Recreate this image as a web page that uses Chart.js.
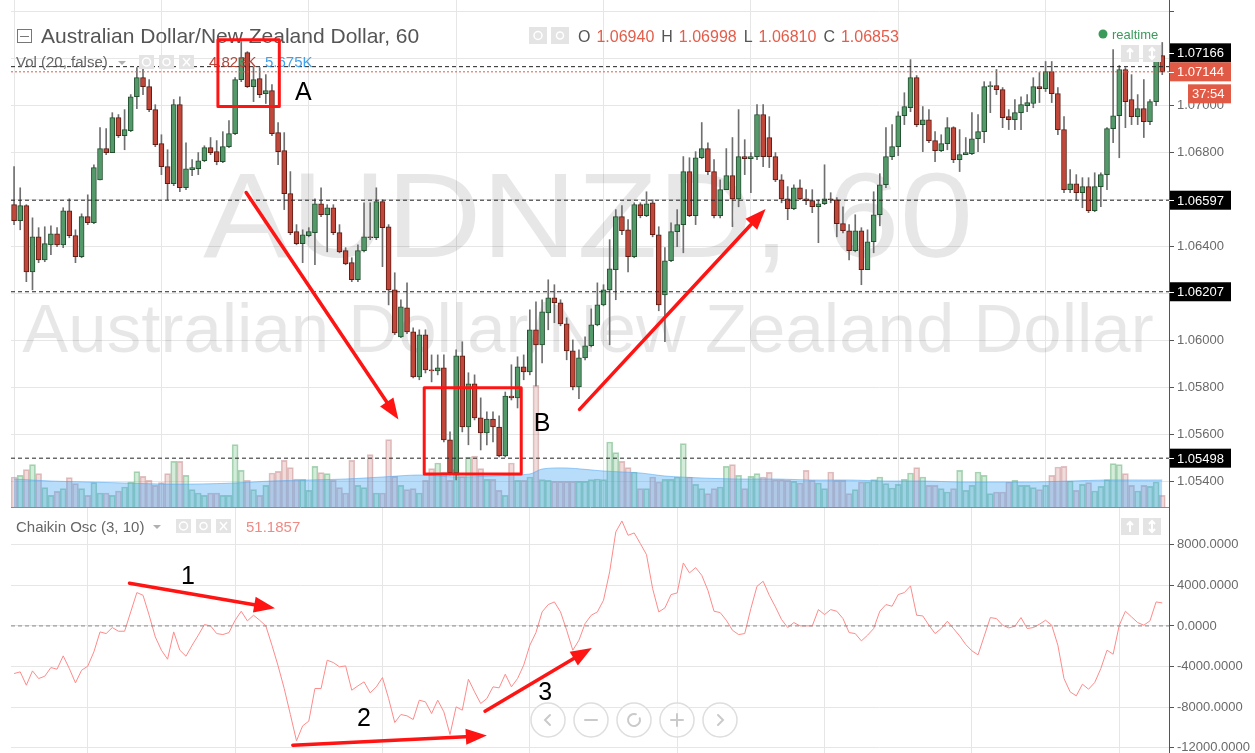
<!DOCTYPE html>
<html>
<head>
<meta charset="utf-8">
<script src="https://cdn.jsdelivr.net/npm/chart.js@4.4.1/dist/chart.umd.min.js"></script>
<style>
  body { margin: 0; background: #fff; width: 1255px; height: 753px; overflow: hidden; position: relative; }
  #priceChart { position: absolute; left: 0; top: 0; }
  #oscChart { position: absolute; left: 0; top: 507px; }
</style>
</head>
<body>
<canvas id="priceChart" width="1255" height="508"></canvas>
<canvas id="oscChart" width="1255" height="246"></canvas>
<script>
var FONT = "'Liberation Sans', Arial, sans-serif";

// AUDNZD 60 min candles (index 0 = first bar on the left)
var openP = [
  1.06578, 1.06510, 1.06574, 1.06292, 1.06441, 1.06343, 1.06407, 1.06454, 1.06407, 1.06552,
  1.06446, 1.06356, 1.06527, 1.06501, 1.06684, 1.06817, 1.06800, 1.06949, 1.06872, 1.06893,
  1.07038, 1.07119, 1.07081, 1.06983, 1.06838, 1.06740, 1.06667, 1.07004, 1.06650, 1.06727,
  1.06731, 1.06765, 1.06821, 1.06804, 1.06761, 1.06825, 1.06881, 1.07111, 1.07226, 1.07081,
  1.07115, 1.07051, 1.07064, 1.06885, 1.06808, 1.06625, 1.06463, 1.06412, 1.06446, 1.06459,
  1.06582, 1.06535, 1.06565, 1.06459, 1.06382, 1.06331, 1.06258, 1.06382, 1.06441, 1.06437,
  1.06591, 1.06484, 1.06215, 1.06015, 1.06139, 1.06036, 1.05844, 1.06024, 1.05874, 1.05870,
  1.05883, 1.05576, 1.05435, 1.05934, 1.05631, 1.05815, 1.05670, 1.05606, 1.05665, 1.05631,
  1.05508, 1.05763, 1.05755, 1.05887, 1.05866, 1.06045, 1.05981, 1.06117, 1.06181, 1.06160,
  1.06070, 1.05955, 1.05802, 1.05925, 1.05977, 1.06066, 1.06151, 1.06215, 1.06301, 1.06527,
  1.06471, 1.06356, 1.06578, 1.06531, 1.06586, 1.06450, 1.06194, 1.06339, 1.06463, 1.06493,
  1.06719, 1.06531, 1.06778, 1.06817, 1.06719, 1.06531, 1.06642, 1.06702, 1.06603, 1.06783,
  1.06774, 1.06783, 1.06962, 1.06864, 1.06783, 1.06684, 1.06603, 1.06561, 1.06650, 1.06603,
  1.06595, 1.06569, 1.06582, 1.06603, 1.06599, 1.06497, 1.06467, 1.06382, 1.06467, 1.06301,
  1.06420, 1.06535, 1.06663, 1.06783, 1.06825, 1.06957, 1.06991, 1.07119, 1.06919, 1.06940,
  1.06851, 1.06808, 1.06838, 1.06906, 1.06770, 1.06791, 1.06795, 1.06859, 1.06889, 1.07081,
  1.07085, 1.07068, 1.06953, 1.06940, 1.06970, 1.07000, 1.07009, 1.07081, 1.07072, 1.07145,
  1.07051, 1.06898, 1.06642, 1.06667, 1.06629, 1.06655, 1.06552, 1.06655, 1.06706, 1.06902,
  1.06957, 1.07154, 1.07026, 1.06953, 1.06987, 1.06932, 1.07017, 1.07213
];
var highP = [
  1.06740, 1.06650, 1.06578, 1.06522, 1.06480, 1.06484, 1.06488, 1.06480, 1.06565, 1.06603,
  1.06471, 1.06539, 1.06620, 1.06748, 1.06906, 1.06902, 1.06970, 1.06962, 1.06983, 1.07047,
  1.07162, 1.07183, 1.07111, 1.07004, 1.06876, 1.06812, 1.07026, 1.07038, 1.06842, 1.06770,
  1.06800, 1.06829, 1.06864, 1.06851, 1.06889, 1.06936, 1.07119, 1.07273, 1.07230, 1.07166,
  1.07162, 1.07132, 1.07090, 1.06928, 1.06885, 1.06719, 1.06493, 1.06471, 1.06480, 1.06603,
  1.06650, 1.06578, 1.06578, 1.06493, 1.06395, 1.06352, 1.06407, 1.06586, 1.06586, 1.06650,
  1.06599, 1.06493, 1.06288, 1.06173, 1.06245, 1.06053, 1.06045, 1.06045, 1.05938, 1.05938,
  1.05938, 1.05610, 1.05960, 1.05994, 1.05862, 1.05853, 1.05755, 1.05695, 1.05695, 1.05678,
  1.05780, 1.05896, 1.05930, 1.05938, 1.06130, 1.06164, 1.06173, 1.06258, 1.06237, 1.06173,
  1.06096, 1.06002, 1.05960, 1.06015, 1.06134, 1.06245, 1.06237, 1.06429, 1.06557, 1.06574,
  1.06514, 1.06586, 1.06586, 1.06633, 1.06599, 1.06484, 1.06395, 1.06501, 1.06557, 1.06783,
  1.06778, 1.06804, 1.06928, 1.06842, 1.06770, 1.06684, 1.06817, 1.06864, 1.06983, 1.06855,
  1.06800, 1.07004, 1.07004, 1.06953, 1.06800, 1.06706, 1.06655, 1.06663, 1.06684, 1.06642,
  1.06642, 1.06599, 1.06748, 1.06629, 1.06608, 1.06569, 1.06493, 1.06535, 1.06480, 1.06471,
  1.06633, 1.06710, 1.06906, 1.06919, 1.06974, 1.07055, 1.07196, 1.07128, 1.06996, 1.06983,
  1.06889, 1.06876, 1.06949, 1.06910, 1.06898, 1.06864, 1.06970, 1.06962, 1.07102, 1.07102,
  1.07154, 1.07077, 1.06983, 1.07026, 1.07038, 1.07047, 1.07119, 1.07141, 1.07188, 1.07188,
  1.07077, 1.06953, 1.06727, 1.06706, 1.06693, 1.06693, 1.06714, 1.06714, 1.06906, 1.07239,
  1.07171, 1.07162, 1.07132, 1.07047, 1.07111, 1.07026, 1.07230, 1.07269
];
var lowP = [
  1.06493, 1.06471, 1.06250, 1.06215, 1.06331, 1.06335, 1.06365, 1.06399, 1.06395, 1.06437,
  1.06331, 1.06352, 1.06493, 1.06497, 1.06684, 1.06791, 1.06800, 1.06864, 1.06812, 1.06889,
  1.06987, 1.07047, 1.06974, 1.06825, 1.06706, 1.06599, 1.06659, 1.06633, 1.06642, 1.06702,
  1.06706, 1.06761, 1.06791, 1.06748, 1.06757, 1.06821, 1.06876, 1.07102, 1.07077, 1.07017,
  1.07034, 1.07009, 1.06872, 1.06748, 1.06557, 1.06450, 1.06407, 1.06331, 1.06441, 1.06322,
  1.06527, 1.06377, 1.06450, 1.06373, 1.06322, 1.06250, 1.06250, 1.06377, 1.06429, 1.06429,
  1.06314, 1.06151, 1.06024, 1.06011, 1.06028, 1.05840, 1.05832, 1.05861, 1.05823, 1.05853,
  1.05567, 1.05427, 1.05405, 1.05610, 1.05555, 1.05661, 1.05533, 1.05555, 1.05567, 1.05503,
  1.05503, 1.05746, 1.05712, 1.05832, 1.05853, 1.05806, 1.05904, 1.06045, 1.06075, 1.06062,
  1.05917, 1.05789, 1.05751, 1.05917, 1.05972, 1.06062, 1.06147, 1.05981, 1.06173, 1.06450,
  1.06292, 1.06352, 1.06522, 1.06527, 1.06441, 1.06126, 1.05994, 1.06335, 1.06399, 1.06373,
  1.06527, 1.06493, 1.06774, 1.06706, 1.06522, 1.06522, 1.06642, 1.06484, 1.06569, 1.06706,
  1.06629, 1.06770, 1.06740, 1.06736, 1.06676, 1.06586, 1.06514, 1.06557, 1.06599, 1.06578,
  1.06544, 1.06416, 1.06578, 1.06586, 1.06441, 1.06458, 1.06343, 1.06377, 1.06237, 1.06301,
  1.06373, 1.06488, 1.06650, 1.06770, 1.06787, 1.06919, 1.06974, 1.06910, 1.06804, 1.06842,
  1.06761, 1.06804, 1.06812, 1.06757, 1.06719, 1.06791, 1.06791, 1.06804, 1.06842, 1.06970,
  1.07047, 1.06906, 1.06898, 1.06898, 1.06898, 1.06974, 1.06991, 1.07013, 1.07060, 1.07013,
  1.06876, 1.06629, 1.06629, 1.06599, 1.06565, 1.06544, 1.06548, 1.06569, 1.06642, 1.06842,
  1.06778, 1.06906, 1.06919, 1.06919, 1.06864, 1.06919, 1.07000, 1.07132
];
var closeP = [
  1.06510, 1.06574, 1.06292, 1.06441, 1.06343, 1.06412, 1.06454, 1.06407, 1.06552, 1.06446,
  1.06356, 1.06527, 1.06501, 1.06736, 1.06817, 1.06800, 1.06949, 1.06872, 1.06898, 1.07038,
  1.07119, 1.07081, 1.06983, 1.06834, 1.06740, 1.06667, 1.07004, 1.06650, 1.06731, 1.06736,
  1.06765, 1.06821, 1.06800, 1.06761, 1.06825, 1.06881, 1.07111, 1.07205, 1.07081, 1.07111,
  1.07047, 1.07064, 1.06881, 1.06804, 1.06625, 1.06459, 1.06412, 1.06450, 1.06463, 1.06582,
  1.06535, 1.06565, 1.06459, 1.06377, 1.06326, 1.06258, 1.06382, 1.06441, 1.06437, 1.06591,
  1.06480, 1.06215, 1.06032, 1.06143, 1.06036, 1.05844, 1.06024, 1.05874, 1.05870, 1.05883,
  1.05576, 1.05435, 1.05934, 1.05631, 1.05815, 1.05670, 1.05606, 1.05665, 1.05631, 1.05508,
  1.05763, 1.05755, 1.05887, 1.05866, 1.06045, 1.05981, 1.06122, 1.06181, 1.06160, 1.06070,
  1.05955, 1.05802, 1.05925, 1.05977, 1.06066, 1.06151, 1.06215, 1.06305, 1.06527, 1.06467,
  1.06356, 1.06578, 1.06531, 1.06582, 1.06450, 1.06151, 1.06339, 1.06463, 1.06493, 1.06719,
  1.06531, 1.06778, 1.06817, 1.06719, 1.06531, 1.06642, 1.06702, 1.06603, 1.06783, 1.06774,
  1.06783, 1.06962, 1.06783, 1.06783, 1.06684, 1.06603, 1.06561, 1.06650, 1.06603, 1.06595,
  1.06569, 1.06582, 1.06603, 1.06599, 1.06497, 1.06467, 1.06382, 1.06467, 1.06301, 1.06420,
  1.06535, 1.06663, 1.06783, 1.06825, 1.06957, 1.06996, 1.07119, 1.06919, 1.06940, 1.06851,
  1.06808, 1.06838, 1.06906, 1.06770, 1.06791, 1.06800, 1.06859, 1.06889, 1.07081, 1.07085,
  1.07068, 1.06949, 1.06940, 1.06970, 1.07004, 1.07013, 1.07081, 1.07072, 1.07145, 1.07051,
  1.06898, 1.06642, 1.06667, 1.06629, 1.06655, 1.06552, 1.06655, 1.06706, 1.06902, 1.06957,
  1.07154, 1.07017, 1.06953, 1.06987, 1.06932, 1.07017, 1.07217, 1.07144
];
var volume = [
  6300, 6650, 7840, 8890, 7000, 4060, 2450, 3290, 3850, 6160,
  4900, 3850, 2450, 5110, 2940, 2940, 2450, 3360, 4200, 5250,
  7420, 6440, 5600, 4550, 5110, 7000, 9590, 9590, 6650, 3640,
  2940, 2450, 2940, 2940, 2450, 2450, 13090, 7700, 5600, 3640,
  2450, 4550, 7140, 7490, 9800, 8260, 5880, 5810, 3500, 8540,
  7210, 7000, 5600, 4060, 2940, 9800, 4550, 4060, 10990, 2940,
  2940, 14140, 6440, 4550, 3640, 3850, 2940, 5600, 8050, 9240,
  7350, 5600, 7840, 6440, 10500, 10710, 8050, 5810, 5810, 3500,
  2450, 9240, 5600, 5600, 6300, 25550, 5740, 5600, 5390, 5390,
  5390, 5390, 5390, 5390, 5740, 5880, 5740, 13650, 11410, 9590,
  8260, 7350, 3850, 3850, 6300, 5250, 5810, 5810, 6300, 13300,
  6300, 4760, 3850, 2800, 3850, 4200, 8540, 8890, 6650, 3850,
  6440, 7000, 6300, 7280, 5740, 5740, 5600, 5390, 5040, 7700,
  5600, 5040, 3850, 7350, 5600, 5600, 2800, 3640, 5250, 5250,
  5740, 6300, 4900, 3990, 4760, 5810, 7140, 8260, 6300, 4550,
  4550, 3850, 3150, 3850, 7700, 3500, 4550, 7350, 6650, 2800,
  3150, 3150, 5250, 5600, 4550, 4550, 4060, 3640, 4550, 6650,
  8400, 8540, 5460, 3500, 4760, 5110, 3360, 4340, 5740, 9100,
  8890, 7000, 4550, 3360, 4550, 4340, 5250, 2450
];
// Vol (20) moving average, read at a few bars
var volMaIdx = [0, 6, 12, 18, 24, 30, 36, 42, 48, 54, 60, 66, 72, 78, 84, 86, 90, 96, 102, 106,
  112, 118, 124, 130, 136, 142, 148, 154, 160, 166, 172, 178, 184, 187];
var volMa = [5880, 5460, 5250, 5040, 4830, 4830, 5040, 5460, 5670, 5880, 6300, 6720, 6300, 6510, 6930, 7980, 8190, 7560, 7140, 6510,
  6090, 5880, 5880, 5670, 5670, 5460, 5460, 5250, 5250, 5250, 5460, 5670, 5670, 5675];
// Chaikin Osc (3, 10)
var chaikin = [
  -4684, -4520, -5831, -4422, -5175, -4946, -4094, -4258, -2946, -4192,
  -5601, -4356, -3963, -2554, -588, -752, -162, -522, -522, 1379,
  3279, 3017, 1051, -1079, -2390, -3275, -588, -2390, -2980, -1898,
  -915, 133, 2, -752, -850, -653, 559, 1444, 494, 1051,
  559, 2, -1898, -3930, -6159, -8715, -11303, -9829, -9370, -6159,
  -6159, -3373, -3602, -4028, -3930, -6322, -5896, -5503, -6585, -5995,
  -5077, -7142, -9501, -8715, -8846, -9206, -7305, -7469, -8616, -7305,
  -8452, -10681, -7961, -8289, -5241, -6486, -7633, -7142, -5995, -6093,
  -4749, -5995, -5175, -3865, -1898, -653, 1379, 2100, 2362, 1379,
  -424, -2390, -1407, 232, 1051, 1379, 2526, 5311, 9243, 10325,
  8916, 9145, 8096, 7015, 3672, 1379, 1772, 3083, 3247, 6196,
  5213, 5737, 4983, 3509, 1444, 1313, 559, -424, -850, -752,
  1706, 3902, 4393, 3017, 1870, 625, -162, 330, 2, 2,
  2, 1608, 1116, 1608, 1444, 723, -653, -752, -1473, -915,
  -260, 1444, 2100, 1936, 3083, 3279, 3935, 1051, 985, 68,
  -752, -260, 461, -260, -981, -1833, -2450, -2850, -1014, 822,
  723, 68, -195, -31, 822, -260, -162, 166, 559, 68,
  -1898, -5175, -6486, -6879, -5732, -6224, -5568, -4192, -2390, -2783,
  68, 1444, 887, 330, 68, 494, 2362, 2263
];
var levels = [1.07166, 1.06597, 1.06207, 1.05498];
var lastPrice = 1.07144;
var priceTicks = [1.054, 1.056, 1.058, 1.060, 1.062, 1.064, 1.066, 1.068, 1.070, 1.072, 1.074];
var oscTicks = [-12000, -8000, -4000, 0, 4000, 8000];
var dayTicks = [12, 36, 60, 84, 108, 132, 156, 180];
var ohlcLegend = [['O', '1.06940'], ['H', '1.06998'], ['L', '1.06810'], ['C', '1.06853']];

var xMin = -0.5, xMax = 188.1;

var up = closeP.map(function (c, i) { return c >= openP[i]; });
var bodies = closeP.map(function (c, i) { return { x: i, y: [Math.min(openP[i], c), Math.max(openP[i], c)] }; });
var wicks = closeP.map(function (c, i) { return { x: i, y: [lowP[i], highP[i]] }; });
var vols = volume.map(function (v, i) { return { x: i, y: v }; });
var maPts = volMaIdx.map(function (x, k) { return { x: x, y: volMa[k] }; });
var oscPts = chaikin.map(function (v, i) { return { x: i, y: v }; });

function hLine(y, color, dash) {
  return {
    type: 'line', data: [{ x: xMin, y: y }, { x: xMax, y: y }],
    borderColor: color, borderWidth: 1, borderDash: dash,
    pointRadius: 0, yAxisID: 'y', order: 0
  };
}

function xAxis(showBorder) {
  return {
    type: 'linear', min: xMin, max: xMax, offset: false,
    afterBuildTicks: function (s) { s.ticks = dayTicks.map(function (v) { return { value: v }; }); },
    afterFit: function (s) { s.height = 0; s.paddingLeft = 0; s.paddingRight = 0; },
    ticks: { display: false },
    grid: { color: '#e6e6e6', drawTicks: false },
    border: { display: showBorder, color: '#8c8c8c' }
  };
}

// right axis keeps the full pane height (no room reserved for half labels)
function fitRight(s) {
  s.width = 86;
  s.paddingTop = 0;
  s.paddingBottom = 0;
}

// ---------- drawing helpers ----------
function txt(c, s, x, y, color, size, weight) {
  c.font = (weight || 'normal') + ' ' + size + 'px ' + FONT;
  c.fillStyle = color;
  c.textAlign = 'left';
  c.textBaseline = 'alphabetic';
  c.fillText(s, x, y);
  return c.measureText(s).width;
}

function greyBox(c, x, y, w, h) {
  c.fillStyle = '#e4e4e4';
  c.fillRect(x, y, w, h);
}

function arrow(c, x1, y1, x2, y2) {
  var a = Math.atan2(y2 - y1, x2 - x1), hl = 21, hw = 8;
  var bx = x2 - hl * Math.cos(a), by = y2 - hl * Math.sin(a);
  c.strokeStyle = '#ff1414';
  c.fillStyle = '#ff1414';
  c.lineWidth = 3.5;
  c.lineCap = 'round';
  c.beginPath(); c.moveTo(x1, y1); c.lineTo(bx, by); c.stroke();
  c.beginPath();
  c.moveTo(x2, y2);
  c.lineTo(bx + hw * Math.sin(a), by - hw * Math.cos(a));
  c.lineTo(bx - hw * Math.sin(a), by + hw * Math.cos(a));
  c.closePath(); c.fill();
}

function tag(c, y, label, bg, x0) {
  c.fillStyle = bg;
  c.fillRect(x0, y - 9.5, 1231 - x0, 19);
  c.strokeStyle = '#fff';
  c.lineWidth = 1;
  if (x0 === 1170) {
    c.beginPath(); c.moveTo(1169, Math.round(y) + 0.5); c.lineTo(1174, Math.round(y) + 0.5); c.stroke();
  }
  c.textBaseline = 'middle';
  c.font = '13px ' + FONT;
  c.fillStyle = '#fff';
  c.textAlign = 'left';
  c.fillText(label, x0 === 1170 ? 1177 : x0 + 4, y + 1);
}

function sideIcons(c, y) {
  greyBox(c, 1121, y, 18, 17);
  greyBox(c, 1143, y, 18, 17);
  c.strokeStyle = '#fff'; c.lineWidth = 2;
  c.beginPath(); c.moveTo(1130, y + 4); c.lineTo(1130, y + 14);
  c.moveTo(1127, y + 7); c.lineTo(1130, y + 4); c.lineTo(1133, y + 7);
  c.moveTo(1152, y + 3); c.lineTo(1152, y + 14);
  c.moveTo(1149, y + 6); c.lineTo(1152, y + 3); c.lineTo(1155, y + 6);
  c.moveTo(1149, y + 11); c.lineTo(1152, y + 14); c.lineTo(1155, y + 11);
  c.stroke();
}

function paneIcons(c, x, y) {
  greyBox(c, x, y, 15, 14);
  greyBox(c, x + 20, y, 15, 14);
  greyBox(c, x + 40, y, 15, 14);
  c.strokeStyle = '#fff'; c.fillStyle = '#fff'; c.lineWidth = 1.5;
  c.beginPath(); c.arc(x + 7.5, y + 7, 4, 0, Math.PI * 2); c.stroke();
  c.beginPath(); c.arc(x + 27.5, y + 7, 3.5, 0, Math.PI * 2); c.stroke();
  c.beginPath(); c.moveTo(x + 44, y + 3); c.lineTo(x + 51, y + 11); c.moveTo(x + 51, y + 3); c.lineTo(x + 44, y + 11); c.stroke();
}

function dropCaret(c, x, y) {
  c.fillStyle = '#b0b0b0';
  c.beginPath(); c.moveTo(x, y); c.lineTo(x + 8, y); c.lineTo(x + 4, y + 4); c.closePath(); c.fill();
}

// annotations placed in chart units (bar index, price / osc value)
var priceBoxes = [[33.2, 43.2, 1.07281, 1.06996], [66.8, 82.6, 1.05798, 1.05431]];
var priceArrows = [[37.8, 1.06630, 62.6, 1.05663], [92.1, 1.05706, 122.4, 1.06560]];
var priceMarks = [['A', 47.1, 1.07055], ['B', 86.0, 1.05644]];
var oscArrows = [[18.8, 4197, 42.5, 1740], [45.4, -11727, 77.0, -10790], [76.7, -8385, 94.1, -2160]];
var oscMarks = [['1', 28.3, 4787], ['2', 57.0, -9172], ['3', 86.5, -6616]];

var priceOverlay = {
  id: 'priceOverlay',
  beforeDatasetsDraw: function (chart) {
    var c = chart.ctx;
    c.save();
    c.fillStyle = 'rgba(0,0,0,0.095)';
    c.textAlign = 'center';
    c.textBaseline = 'alphabetic';
    c.save();
    c.translate(588, 257);
    c.scale(1.1, 1);
    c.font = '120px ' + FONT;
    c.fillText('AUDNZD, 60', 0, 0);
    c.restore();
    c.font = '69px ' + FONT;
    c.fillText('Australian Dollar/New Zealand Dollar', 588, 352);
    c.restore();
  },
  afterDraw: function (chart) {
    var c = chart.ctx, sx = chart.scales.x, sy = chart.scales.y;
    c.save();
    // title row
    c.strokeStyle = '#777'; c.lineWidth = 1;
    c.strokeRect(17.5, 29.5, 14, 13);
    c.beginPath(); c.moveTo(20, 36.5); c.lineTo(29, 36.5); c.stroke();
    txt(c, 'Australian Dollar/New Zealand Dollar, 60', 41, 43, '#555', 21);
    greyBox(c, 529, 27, 18, 17);
    greyBox(c, 551, 27, 18, 17);
    c.strokeStyle = '#fff'; c.lineWidth = 1.5;
    c.beginPath(); c.arc(538, 35.5, 4, 0, Math.PI * 2); c.stroke();
    c.beginPath(); c.arc(560, 35.5, 3.5, 0, Math.PI * 2); c.stroke();
    var x = 578;
    ohlcLegend.forEach(function (p) {
      x += txt(c, p[0], x, 42, '#555', 16) + 6;
      x += txt(c, p[1], x, 42, '#e35d4b', 16) + 7;
    });
    c.fillStyle = '#3a9a5c';
    c.beginPath(); c.arc(1103, 34, 4.5, 0, Math.PI * 2); c.fill();
    txt(c, 'realtime', 1112, 38.5, '#3a9a5c', 13);
    sideIcons(c, 45);

    // volume legend
    txt(c, 'Vol (20, false)', 16, 67, '#666', 15);
    dropCaret(c, 118, 61);
    paneIcons(c, 139, 55);
    txt(c, '4.823K', 209, 67, '#b5473a', 15);
    txt(c, '5.675K', 265, 67, '#3fa2ee', 15);

    // price tags on the axis
    var yCur = sy.getPixelForValue(lastPrice);
    levels.forEach(function (lv) {
      var y = sy.getPixelForValue(lv);
      if (Math.abs(y - yCur) < 19) y = yCur - 19;
      tag(c, y, lv.toFixed(5), '#000', 1170);
    });
    tag(c, yCur, lastPrice.toFixed(5), '#e05a45', 1170);
    tag(c, yCur + 22, '37:54', '#e05a45', 1188);

    // red markup
    c.lineJoin = 'round';
    priceBoxes.forEach(function (b) {
      var x0 = sx.getPixelForValue(b[0]), x1 = sx.getPixelForValue(b[1]);
      var y0 = sy.getPixelForValue(b[2]), y1 = sy.getPixelForValue(b[3]);
      c.strokeStyle = '#ff1414'; c.lineWidth = 3;
      c.strokeRect(x0, y0, x1 - x0, y1 - y0);
    });
    priceArrows.forEach(function (a) {
      arrow(c, sx.getPixelForValue(a[0]), sy.getPixelForValue(a[1]), sx.getPixelForValue(a[2]), sy.getPixelForValue(a[3]));
    });
    c.textAlign = 'center'; c.textBaseline = 'middle';
    c.font = '25px ' + FONT; c.fillStyle = '#000';
    priceMarks.forEach(function (m) {
      c.fillText(m[0], sx.getPixelForValue(m[1]), sy.getPixelForValue(m[2]));
    });
    c.restore();
  }
};

var oscOverlay = {
  id: 'oscOverlay',
  afterDraw: function (chart) {
    var c = chart.ctx, sx = chart.scales.x, sy = chart.scales.y;
    c.save();
    txt(c, 'Chaikin Osc (3, 10)', 16, 25, '#666', 15);
    dropCaret(c, 153, 18);
    paneIcons(c, 176, 12);
    txt(c, '51.1857', 246, 25, '#f08a84', 15);
    sideIcons(c, 11);

    oscArrows.forEach(function (a) {
      arrow(c, sx.getPixelForValue(a[0]), sy.getPixelForValue(a[1]), sx.getPixelForValue(a[2]), sy.getPixelForValue(a[3]));
    });
    c.textAlign = 'center'; c.textBaseline = 'middle';
    c.font = '25px ' + FONT; c.fillStyle = '#000';
    oscMarks.forEach(function (m) {
      c.fillText(m[0], sx.getPixelForValue(m[1]), sy.getPixelForValue(m[2]));
    });

    // navigation buttons
    var cy = 213;
    [548, 591, 634, 677, 720].forEach(function (cx, k) {
      c.beginPath(); c.arc(cx, cy, 17, 0, Math.PI * 2);
      c.fillStyle = 'rgba(255,255,255,0.55)'; c.fill();
      c.strokeStyle = '#dedede'; c.lineWidth = 1.5; c.stroke();
      c.strokeStyle = '#cacaca'; c.lineWidth = 2; c.lineCap = 'round';
      c.beginPath();
      if (k === 0) { c.moveTo(cx + 2, cy - 5); c.lineTo(cx - 3, cy); c.lineTo(cx + 2, cy + 5); }
      if (k === 1) { c.moveTo(cx - 6, cy); c.lineTo(cx + 6, cy); }
      if (k === 2) { c.arc(cx, cy, 6, -0.3, Math.PI * 1.6); }
      if (k === 3) { c.moveTo(cx - 6, cy); c.lineTo(cx + 6, cy); c.moveTo(cx, cy - 6); c.lineTo(cx, cy + 6); }
      if (k === 4) { c.moveTo(cx - 2, cy - 5); c.lineTo(cx + 3, cy); c.lineTo(cx - 2, cy + 5); }
      c.stroke();
    });
    c.restore();
  }
};

// ---------- price pane ----------
var ctx = document.getElementById('priceChart').getContext('2d');
var priceChart = new Chart(ctx, {
  type: 'bar',
  data: {
    datasets: [
      {
        label: 'bodies', data: bodies, yAxisID: 'y', order: 1,
        grouped: false, barThickness: 5, borderWidth: 1, borderSkipped: false,
        backgroundColor: up.map(function (u) { return u ? '#54996a' : '#c0473a'; }),
        borderColor: up.map(function (u) { return u ? '#24502f' : '#5e1c14'; })
      },
      {
        label: 'wicks', data: wicks, yAxisID: 'y', order: 2,
        grouped: false, barThickness: 1, borderWidth: 0,
        backgroundColor: '#6f6f6f'
      },
      {
        type: 'line', label: 'vol ma', data: maPts, yAxisID: 'vol', order: 4,
        borderColor: 'rgba(80,165,240,0.55)', borderWidth: 1, pointRadius: 0,
        fill: 'origin', backgroundColor: 'rgba(66,165,245,0.38)', tension: 0.3
      },
      {
        label: 'volume', data: vols, yAxisID: 'vol', order: 5,
        grouped: false, barThickness: 6, borderWidth: 1, borderSkipped: 'start',
        backgroundColor: up.map(function (u) { return u ? 'rgba(120,195,140,0.32)' : 'rgba(210,140,140,0.3)'; }),
        borderColor: up.map(function (u) { return u ? 'rgba(90,170,110,0.5)' : 'rgba(190,120,120,0.45)'; })
      },
      hLine(levels[0], '#222', [4, 3]),
      hLine(levels[1], '#222', [4, 3]),
      hLine(levels[2], '#222', [4, 3]),
      hLine(levels[3], '#222', [4, 3]),
      hLine(lastPrice, '#e05a45', [2, 2])
    ]
  },
  options: {
    responsive: false,
    animation: false,
    layout: { padding: { left: 11, top: 0, right: 0, bottom: 1 } },
    plugins: { legend: { display: false }, tooltip: { enabled: false } },
    scales: {
      x: xAxis(true),
      y: {
        position: 'right', min: 1.0529, max: 1.0745,
        afterBuildTicks: function (s) { s.ticks = priceTicks.map(function (v) { return { value: v }; }); },
        afterFit: fitRight,
        ticks: {
          color: '#6a6a6a', padding: 3, font: { family: FONT, size: 13 },
          callback: function (v) { return v > 1.071 ? '' : v.toFixed(5); }
        },
        grid: { color: '#e6e6e6', tickColor: '#555', tickLength: 5 },
        border: { color: '#555' }
      },
      vol: { display: false, min: 0, max: 106500 }
    }
  },
  plugins: [priceOverlay]
});

// ---------- chaikin pane ----------
var ctx2 = document.getElementById('oscChart').getContext('2d');
var oscChart = new Chart(ctx2, {
  type: 'line',
  data: {
    datasets: [
      { label: 'Chaikin Osc', data: oscPts, borderColor: '#ff8a8a', borderWidth: 1, pointRadius: 0, tension: 0, order: 1 },
      hLine(0, '#8a8a8a', [4, 3])
    ]
  },
  options: {
    responsive: false,
    animation: false,
    layout: { padding: { left: 11, top: 1, right: 0, bottom: 0 } },
    plugins: { legend: { display: false }, tooltip: { enabled: false } },
    scales: {
      x: xAxis(false),
      y: {
        position: 'right', min: -12500, max: 11600,
        afterBuildTicks: function (s) { s.ticks = oscTicks.map(function (v) { return { value: v }; }); },
        afterFit: fitRight,
        ticks: {
          color: '#6a6a6a', padding: 3, font: { family: FONT, size: 13 },
          callback: function (v) { return v.toFixed(4); }
        },
        grid: { color: '#e6e6e6', tickColor: '#555', tickLength: 5 },
        border: { color: '#555' }
      }
    }
  },
  plugins: [oscOverlay]
});
</script>
</body>
</html>
